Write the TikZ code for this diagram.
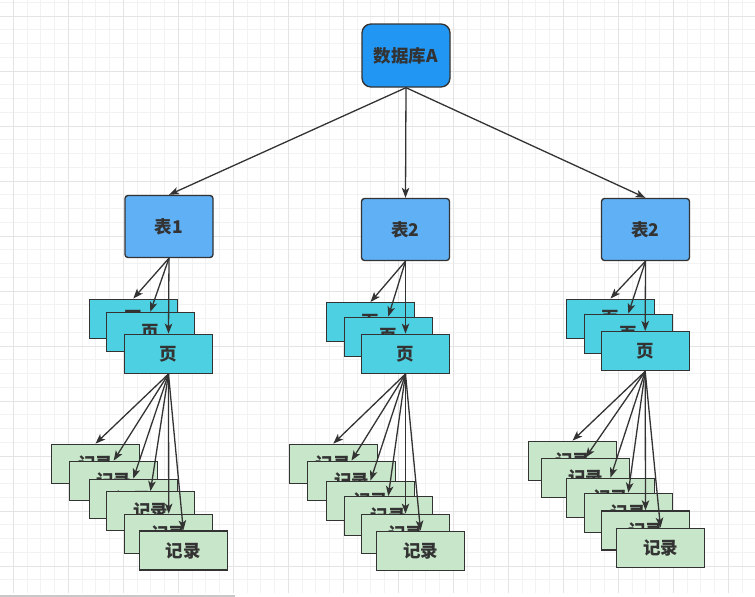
\documentclass[tikz,border=0pt]{standalone}
\usepackage{fontspec}
\setmainfont{Noto Sans CJK SC}
\usetikzlibrary{arrows.meta}
\definecolor{gridminor}{HTML}{F2F2F2}
\definecolor{gridmajor}{HTML}{E4E4E4}
\definecolor{stroke}{HTML}{333333}
\definecolor{dbblue}{HTML}{2196F3}
\definecolor{tblue}{HTML}{60B0F5}
\definecolor{pagecyan}{HTML}{4DD0E1}
\definecolor{recgreen}{HTML}{C8E6C9}
\definecolor{scrollgray}{HTML}{C8C8C8}
\begin{document}
\begin{tikzpicture}[x=1pt,y=-1pt,
  box/.style={draw=stroke, line width=1.35pt, minimum width=88pt, inner sep=0pt,
    font=\bfseries\fontsize{17.5}{18}\selectfont, text=stroke},
  dbbox/.style={box, fill=dbblue, minimum height=63pt, rounded corners=9pt},
  tbox/.style={box, fill=tblue, minimum height=62pt, rounded corners=3pt},
  pagebox/.style={box, fill=pagecyan, minimum height=39pt},
  recbox/.style={box, fill=recgreen, minimum height=39pt},
  link/.style={draw=stroke, line width=1.3pt, -{Stealth[length=10pt,width=7.5pt,inset=2.5pt]}}
]
\useasboundingbox (0,0) rectangle (755,597);
\fill[white] (0,0) rectangle (755,597);
% grid
\foreach \i in {0,...,54}{
  \pgfmathsetmacro{\gx}{13.3+13.75*\i}
  \draw[gridminor, line width=1pt] (\gx,0) -- (\gx,593);
}
\foreach \i in {0,...,42}{
  \pgfmathsetmacro{\gy}{2.25+13.75*\i}
  \draw[gridminor, line width=1pt] (0,\gy) -- (755,\gy);
}
\foreach \i in {0,...,13}{
  \pgfmathsetmacro{\gx}{13.3+55*\i}
  \draw[gridmajor, line width=1pt] (\gx,0) -- (\gx,593);
}
\foreach \i in {0,...,10}{
  \pgfmathsetmacro{\gy}{16+55*\i}
  \draw[gridmajor, line width=1pt] (0,\gy) -- (755,\gy);
}
\fill[white] (0,593) rectangle (755,597);
\fill[scrollgray] (0,594.5) rectangle (235,597);

% database
\node[dbbox] (db) at (406,55.5) {数据库A};
% tables
\node[tbox] (t1) at (169,226.5) {表1};
\node[tbox] (t2) at (405.5,229.5) {表2};
\node[tbox] (t3) at (645.5,229.5) {表2};

% pages left
\node[pagebox] (p1a) at (133.3,318.7) {页};
\node[pagebox] (p1b) at (150.3,332) {页};
\node[pagebox] (p1c) at (168.5,353.8) {页};
% pages middle
\node[pagebox] (p2a) at (370.5,322.2) {页};
\node[pagebox] (p2b) at (388.3,336.7) {页};
\node[pagebox] (p2c) at (405.5,353.8) {页};
% pages right
\node[pagebox] (p3a) at (610.5,318.7) {页};
\node[pagebox] (p3b) at (628.3,333.8) {页};
\node[pagebox] (p3c) at (645.2,351.2) {页};

% records left
\node[recbox] (r1a) at (95.5,463.8) {记录};
\node[recbox] (r1b) at (113.7,480.8) {记录};
\node[recbox] (r1c) at (133.3,498.8) {记录};
\node[recbox] (r1d) at (150.5,511.2) {记录};
\node[recbox] (r1e) at (168.7,533.8) {记录};
\node[recbox] (r1f) at (183.3,550.5) {记录};
% records middle
\node[recbox] (r2a) at (333.3,463.8) {记录};
\node[recbox] (r2b) at (351.5,480.8) {记录};
\node[recbox] (r2c) at (370.5,500.8) {记录};
\node[recbox] (r2d) at (388.3,516.2) {记录};
\node[recbox] (r2e) at (405.5,533.8) {记录};
\node[recbox] (r2f) at (420.5,550.8) {记录};
% records right
\node[recbox] (r3a) at (572.5,460.8) {记录};
\node[recbox] (r3b) at (585.5,477.8) {记录};
\node[recbox] (r3c) at (610.5,497.8) {记录};
\node[recbox] (r3d) at (628.3,512.8) {记录};
\node[recbox] (r3e) at (645.5,530.5) {记录};
\node[recbox] (r3f) at (660.5,547.8) {记录};

% connectors
\foreach \t in {t1,t2,t3}{ \draw[link] (db.south) -- (\t.north); }
\foreach \p in {p1a,p1b,p1c}{ \draw[link] (t1.south) -- (\p.north); }
\foreach \p in {p2a,p2b,p2c}{ \draw[link] (t2.south) -- (\p.north); }
\foreach \p in {p3a,p3b,p3c}{ \draw[link] (t3.south) -- (\p.north); }
\foreach \r in {r1a,r1b,r1c,r1d,r1e,r1f}{ \draw[link] (p1c.south) -- (\r.north); }
\foreach \r in {r2a,r2b,r2c,r2d,r2e,r2f}{ \draw[link] (p2c.south) -- (\r.north); }
\foreach \r in {r3a,r3b,r3c,r3d,r3e,r3f}{ \draw[link] (p3c.south) -- (\r.north); }
\end{tikzpicture}
\end{document}
